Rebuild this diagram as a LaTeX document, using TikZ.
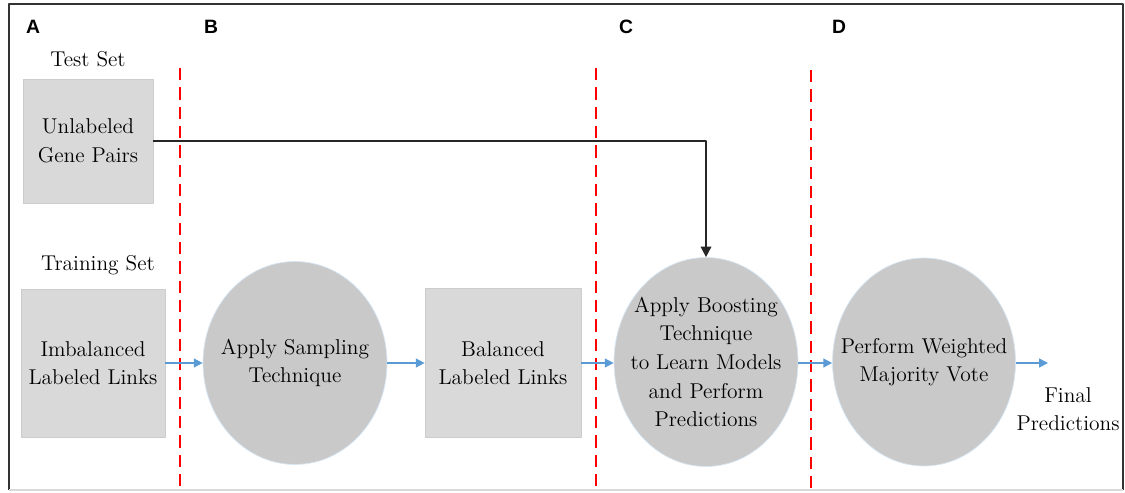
\documentclass[tikz,border=0pt]{standalone}
\usepackage{fontspec}
\newfontfamily\stagefont{Liberation Sans}
\usetikzlibrary{shapes.geometric,arrows.meta}
\definecolor{boxgray}{HTML}{D9D9D9}
\definecolor{ballgray}{HTML}{C9C9C9}
\definecolor{flowblue}{HTML}{5B9BD5}
\tikzset{
  setbox/.style={draw=black!20, fill=boxgray, align=center, inner sep=0pt},
  stepball/.style={ellipse, draw=flowblue!25, fill=ballgray, align=center, inner sep=-0.6cm},
  flow/.style={draw=flowblue, line width=0.9pt, -{Triangle[length=5pt,width=5pt]}},
  stageline/.style={red, dashed, dash pattern=on 7pt off 4pt, line width=0.8pt}
}
\begin{document}
\begin{tikzpicture}[x=0.02cm, y=-0.02cm, font=\rmfamily\fontsize{12.2}{16.3}\selectfont, line join=round, >=stealth]
	\useasboundingbox (0,0) rectangle (1125,493);
	% frame
	\draw[black!80, line width=0.9pt] (9,490) -- (9,4) -- (1123,4) -- (1123,490);
	\draw[black!15, line width=0.6pt] (9,490) -- (1123,490);
	% stage letters and dashed separators
	\foreach \x/\s in {33/A, 211/B, 626/C, 839/D}{\node[font=\stagefont\bfseries\fontsize{11}{13}\selectfont] at (\x,27) {\s};}
	\foreach \x/\y in {180/68, 596/68, 811/70}{\draw[stageline] (\x,\y) -- (\x,490);}
	% inputs
	\node (test) at (88,59) {Test Set};
	\node (train) at (98,265) {Training Set};
	\node[setbox, minimum width=2.6cm, minimum height=2.48cm] (unlab) at (88,141) {Unlabeled\\Gene Pairs};
	\node[setbox, minimum width=2.88cm, minimum height=2.96cm] (imbal) at (93,363) {Imbalanced\\Labeled Links};
	% steps
	\node[stepball, minimum width=3.68cm, minimum height=4.06cm] (sampl) at (295,363) {Apply Sampling\\Technique};
	\node[setbox, minimum width=3.12cm, minimum height=2.98cm] (bal) at (503,363) {Balanced\\Labeled Links};
	\node[stepball, minimum width=3.68cm, minimum height=4.18cm] (boost) at (706,362) {Apply Boosting\\Technique\\to Learn Models\\and Perform\\Predictions};
	\node[stepball, minimum width=3.66cm, minimum height=4.16cm] (vote) at (924,362) {Perform Weighted\\Majority Vote};
	\node[align=center] (final) at (1068,409) {Final\\Predictions};
	\coordinate (out) at (1048,363);
	% connectors
	\draw[flow] (imbal.east) -- (imbal.east -| sampl.west);
	\draw[flow] (sampl.east |- bal.west) -- (bal.west);
	\draw[flow] (bal.east) -- (bal.east -| boost.west);
	\draw[flow] (boost.east |- bal.east) -- (vote.west |- bal.east);
	\draw[flow] (vote.east |- bal.east) -- (out);
	\draw[black!85, line width=0.9pt, -{Triangle[length=6pt,width=6pt]}] (unlab.east) -| (boost.north);
\end{tikzpicture}
\end{document}
